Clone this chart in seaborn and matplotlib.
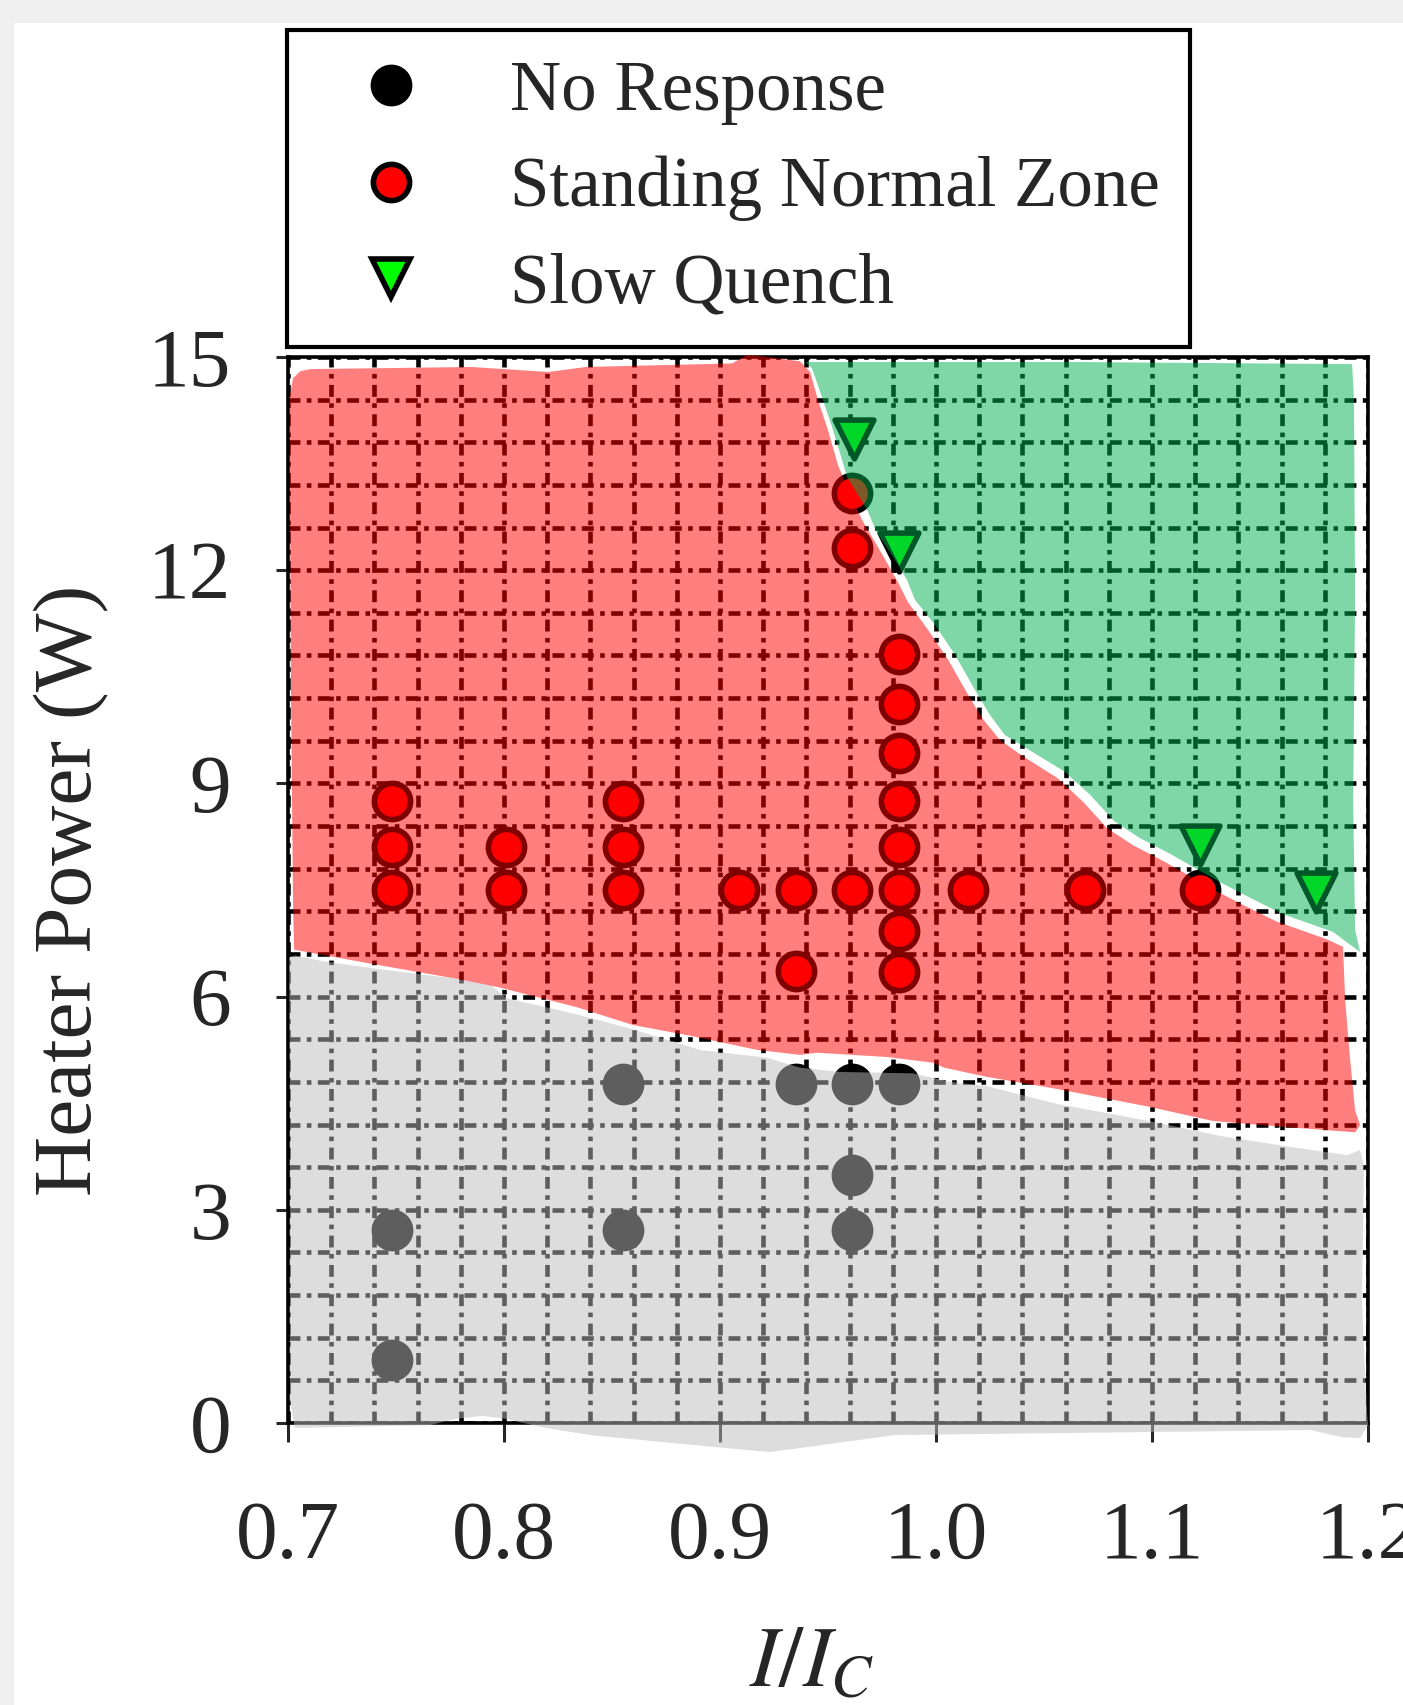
import numpy as np
import pandas as pd
import matplotlib
matplotlib.use("Agg")
import matplotlib.pyplot as plt
import seaborn as sns
from matplotlib.patches import Polygon, Rectangle
from matplotlib.lines import Line2D
from matplotlib.ticker import MultipleLocator, FormatStrFormatter

# ---------------- data ----------------
categories = ["No Response", "Standing Normal Zone", "Slow Quench"]

no_resp_x = [0.748, 0.748, 0.855, 0.855, 0.935, 0.961, 0.961, 0.961, 0.983]
no_resp_y = [2.72, 0.89, 4.77, 2.72, 4.77, 4.77, 3.49, 2.72, 4.77]

snz_x = [0.748, 0.748, 0.748, 0.801, 0.801, 0.855, 0.855, 0.855, 0.909,
         0.935, 0.935, 0.961, 0.961, 0.961,
         0.983, 0.983, 0.983, 0.983, 0.983, 0.983, 0.983, 0.983,
         1.015, 1.069, 1.122]
snz_y = [8.75, 8.10, 7.50, 8.10, 7.50, 8.75, 8.10, 7.50, 7.50,
         7.50, 6.36, 7.50, 12.31, 13.08,
         10.82, 10.12, 9.43, 8.75, 8.10, 7.50, 6.93, 6.35,
         7.50, 7.50, 7.50]

quench_x = [0.962, 0.983, 1.122, 1.176]
quench_y = [13.85, 12.26, 8.13, 7.47]

x_ticks = [0.7, 0.8, 0.9, 1.0, 1.1, 1.2]
y_ticks = [0, 3, 6, 9, 12, 15]

# hand-drawn zone outlines (data coordinates)
red_zone_x = [0.7009, 0.7023, 0.7056, 0.7102, 0.7847, 0.8204, 0.8380, 0.9056, 0.9125, 0.9194,
              0.9370, 0.9417, 0.9454, 0.9500, 0.9546, 0.9602, 0.9657, 0.9755, 0.9824, 0.9870,
              0.9963, 1.0056, 1.0144, 1.0213, 1.0296, 1.0398, 1.0560, 1.0681, 1.0792, 1.0912,
              1.1051, 1.1282, 1.1421, 1.1574, 1.1806, 1.1884, 1.1894, 1.1917, 1.1940, 1.1963,
              1.1940, 1.1639, 1.1282, 1.0986, 1.0560, 1.0236, 1.0037, 0.9986, 0.9773, 0.9449,
              0.9370, 0.9171, 0.8861, 0.8597, 0.8338, 0.7977, 0.7782, 0.7389, 0.7028, 0.7023,
              0.7014, 0.7009]
red_zone_y = [14.46, 14.70, 14.80, 14.83, 14.86, 14.79, 14.86, 14.91, 15.03, 15.01,
              14.94, 14.79, 14.39, 13.97, 13.48, 13.06, 12.71, 12.20, 11.83, 11.55,
              11.16, 10.74, 10.27, 9.92, 9.61, 9.39, 9.08, 8.74, 8.37, 8.13,
              7.91, 7.51, 7.29, 7.06, 6.81, 6.70, 5.95, 5.11, 4.40, 4.19,
              4.09, 4.16, 4.25, 4.45, 4.70, 4.87, 5.00, 5.07, 5.15, 5.21,
              5.18, 5.25, 5.45, 5.60, 5.85, 6.13, 6.25, 6.46, 6.66, 7.36,
              10.17, 12.99]

green_zone_x = [0.9394, 0.9426, 0.9477, 0.9519, 0.9569, 0.9588, 0.9681, 0.9727, 0.9801, 0.9866,
                0.9903, 0.9995, 1.0088, 1.0181, 1.0250, 1.0319, 1.0431, 1.0593, 1.0713, 1.0824,
                1.0944, 1.1083, 1.1315, 1.1454, 1.1606, 1.1838, 1.1917, 1.1963, 1.1940, 1.1931,
                1.1940, 1.1935, 1.1926, 1.0650]
green_zone_y = [14.93, 14.84, 14.39, 14.01, 13.51, 13.31, 12.85, 12.52, 12.19, 11.86,
                11.58, 11.23, 10.81, 10.31, 9.96, 9.68, 9.47, 9.17, 8.84, 8.47,
                8.23, 8.01, 7.61, 7.39, 7.16, 6.91, 6.73, 6.63, 6.94, 8.77,
                11.58, 14.39, 14.90, 14.93]

gray_zone_x = [0.7005, 0.7032, 0.7157, 0.7389, 0.7782, 0.7944, 0.8009, 0.8338, 0.8597, 0.8907,
               0.9218, 0.9370, 0.9556, 0.9894, 1.0065, 1.0236, 1.0560, 1.0986, 1.1315, 1.1606,
               1.1903, 1.1963, 1.1981, 1.1972, 1.1991, 1.2000, 1.1963, 1.1880, 1.1736, 0.9810,
               0.9231, 0.8773, 0.8398, 0.8194, 0.8005, 0.7903, 0.7778, 0.7657, 0.7032, 0.7009,
               0.7009]
gray_zone_y = [6.54, 6.58, 6.50, 6.40, 6.25, 6.15, 5.98, 5.75, 5.54, 5.25,
               5.14, 5.00, 4.94, 4.92, 4.80, 4.74, 4.49, 4.25, 4.04, 3.90,
               3.77, 3.84, 3.63, 1.73, 0.32, -0.03, -0.21, -0.20, -0.10, -0.17,
               -0.41, -0.28, -0.17, -0.07, 0.06, 0.10, 0.06, -0.03, -0.07, 0.32,
               4.55]

# ---------------- style ----------------
sns.set_style("white")
plt.rcParams['font.family'] = ['Liberation Serif', 'DejaVu Serif']
plt.rcParams['mathtext.fontset'] = 'stix'

fig = plt.figure(figsize=(14.03, 17.05), dpi=100)
fig.patch.set_facecolor('white')
# light grey scan border (top and left)
fig.add_artist(Rectangle((0, 1 - 23 / 1705), 1, 23 / 1705, transform=fig.transFigure,
                         fc='#F0F0F0', ec='none', zorder=0))
fig.add_artist(Rectangle((0, 0), 14 / 1403, 1, transform=fig.transFigure,
                         fc='#F0F0F0', ec='none', zorder=0))

ax = fig.add_axes([0.2053, 0.1654, 0.7698, 0.6252])
ax.set_facecolor('white')

df_nr = pd.DataFrame({"x": no_resp_x, "y": no_resp_y, "cat": categories[0]})
df_snz = pd.DataFrame({"x": snz_x, "y": snz_y, "cat": categories[1]})
df_q = pd.DataFrame({"x": quench_x, "y": quench_y, "cat": categories[2]})

circle_s = 680
tri_s = 780
sns.scatterplot(data=df_nr, x="x", y="y", ax=ax, marker='o', s=circle_s,
                color='black', edgecolor='black', linewidth=4, zorder=3, legend=False)
sns.scatterplot(data=df_snz, x="x", y="y", ax=ax, marker='o', s=circle_s,
                color='#FF0000', edgecolor='black', linewidth=4, zorder=3, legend=False)
sns.scatterplot(data=df_q, x="x", y="y", ax=ax, marker='v', s=tri_s,
                color='#00FF00', edgecolor='black', linewidth=4, zorder=3, legend=False)

# translucent zone overlays
zones = [(gray_zone_x, gray_zone_y, (0.74, 0.74, 0.74)),
         (red_zone_x, red_zone_y, (1.0, 0.0, 0.0)),
         (green_zone_x, green_zone_y, (0.0, 0.694, 0.318))]
for zx, zy, col in zones:
    ax.add_patch(Polygon(np.column_stack([zx, zy]), closed=True, fc=col, ec='none',
                         alpha=0.5, zorder=4, clip_on=False))

ax.set_xlim(0.7, 1.2)
ax.set_ylim(0, 15)
ax.set_xticks(x_ticks)
ax.set_yticks(y_ticks)
ax.xaxis.set_major_formatter(FormatStrFormatter('%.1f'))
ax.xaxis.set_minor_locator(MultipleLocator(0.02))
ax.yaxis.set_minor_locator(MultipleLocator(0.6))
ax.set_axisbelow(True)
ax.grid(which='both', color='black', linewidth=3.3,
        linestyle=(0, (2.6, 1.4, 1.0, 1.4)))

ax.tick_params(axis='x', which='major', direction='out', length=14, width=2.2,
               pad=42, labelsize=60, bottom=True, top=False)
ax.tick_params(axis='y', which='major', direction='out', length=9, width=2.2,
               pad=32, labelsize=60, left=True, right=False)
ax.tick_params(which='minor', length=0)
for sp in ax.spines.values():
    sp.set_visible(True)
    sp.set_color('black')
    sp.set_linewidth(2.6)

ax.set_xlabel(r'$I/I_C$', fontsize=62)
ax.xaxis.set_label_coords(0.485, -0.19)
ax.set_ylabel('Heater Power (W)', fontsize=60)
ax.yaxis.set_label_coords(-0.165, 0.5)

handles = [
    Line2D([], [], ls='', marker='o', markersize=np.sqrt(circle_s), mfc='black', mec='black', mew=4),
    Line2D([], [], ls='', marker='o', markersize=np.sqrt(circle_s), mfc='#FF0000', mec='black', mew=4),
    Line2D([], [], ls='', marker='v', markersize=np.sqrt(tri_s), mfc='#00FF00', mec='black', mew=4),
]
leg = fig.legend(handles, categories, loc='upper left', bbox_to_anchor=(0.2046, 0.9824),
                 bbox_transform=fig.transFigure, fontsize=51, frameon=True, fancybox=False,
                 edgecolor='black', framealpha=1, borderpad=0.42, labelspacing=0.44,
                 handlelength=2.09, handletextpad=0.64, borderaxespad=0)
leg.get_frame().set_linewidth(3)

fig.savefig('out.png', dpi=100)
